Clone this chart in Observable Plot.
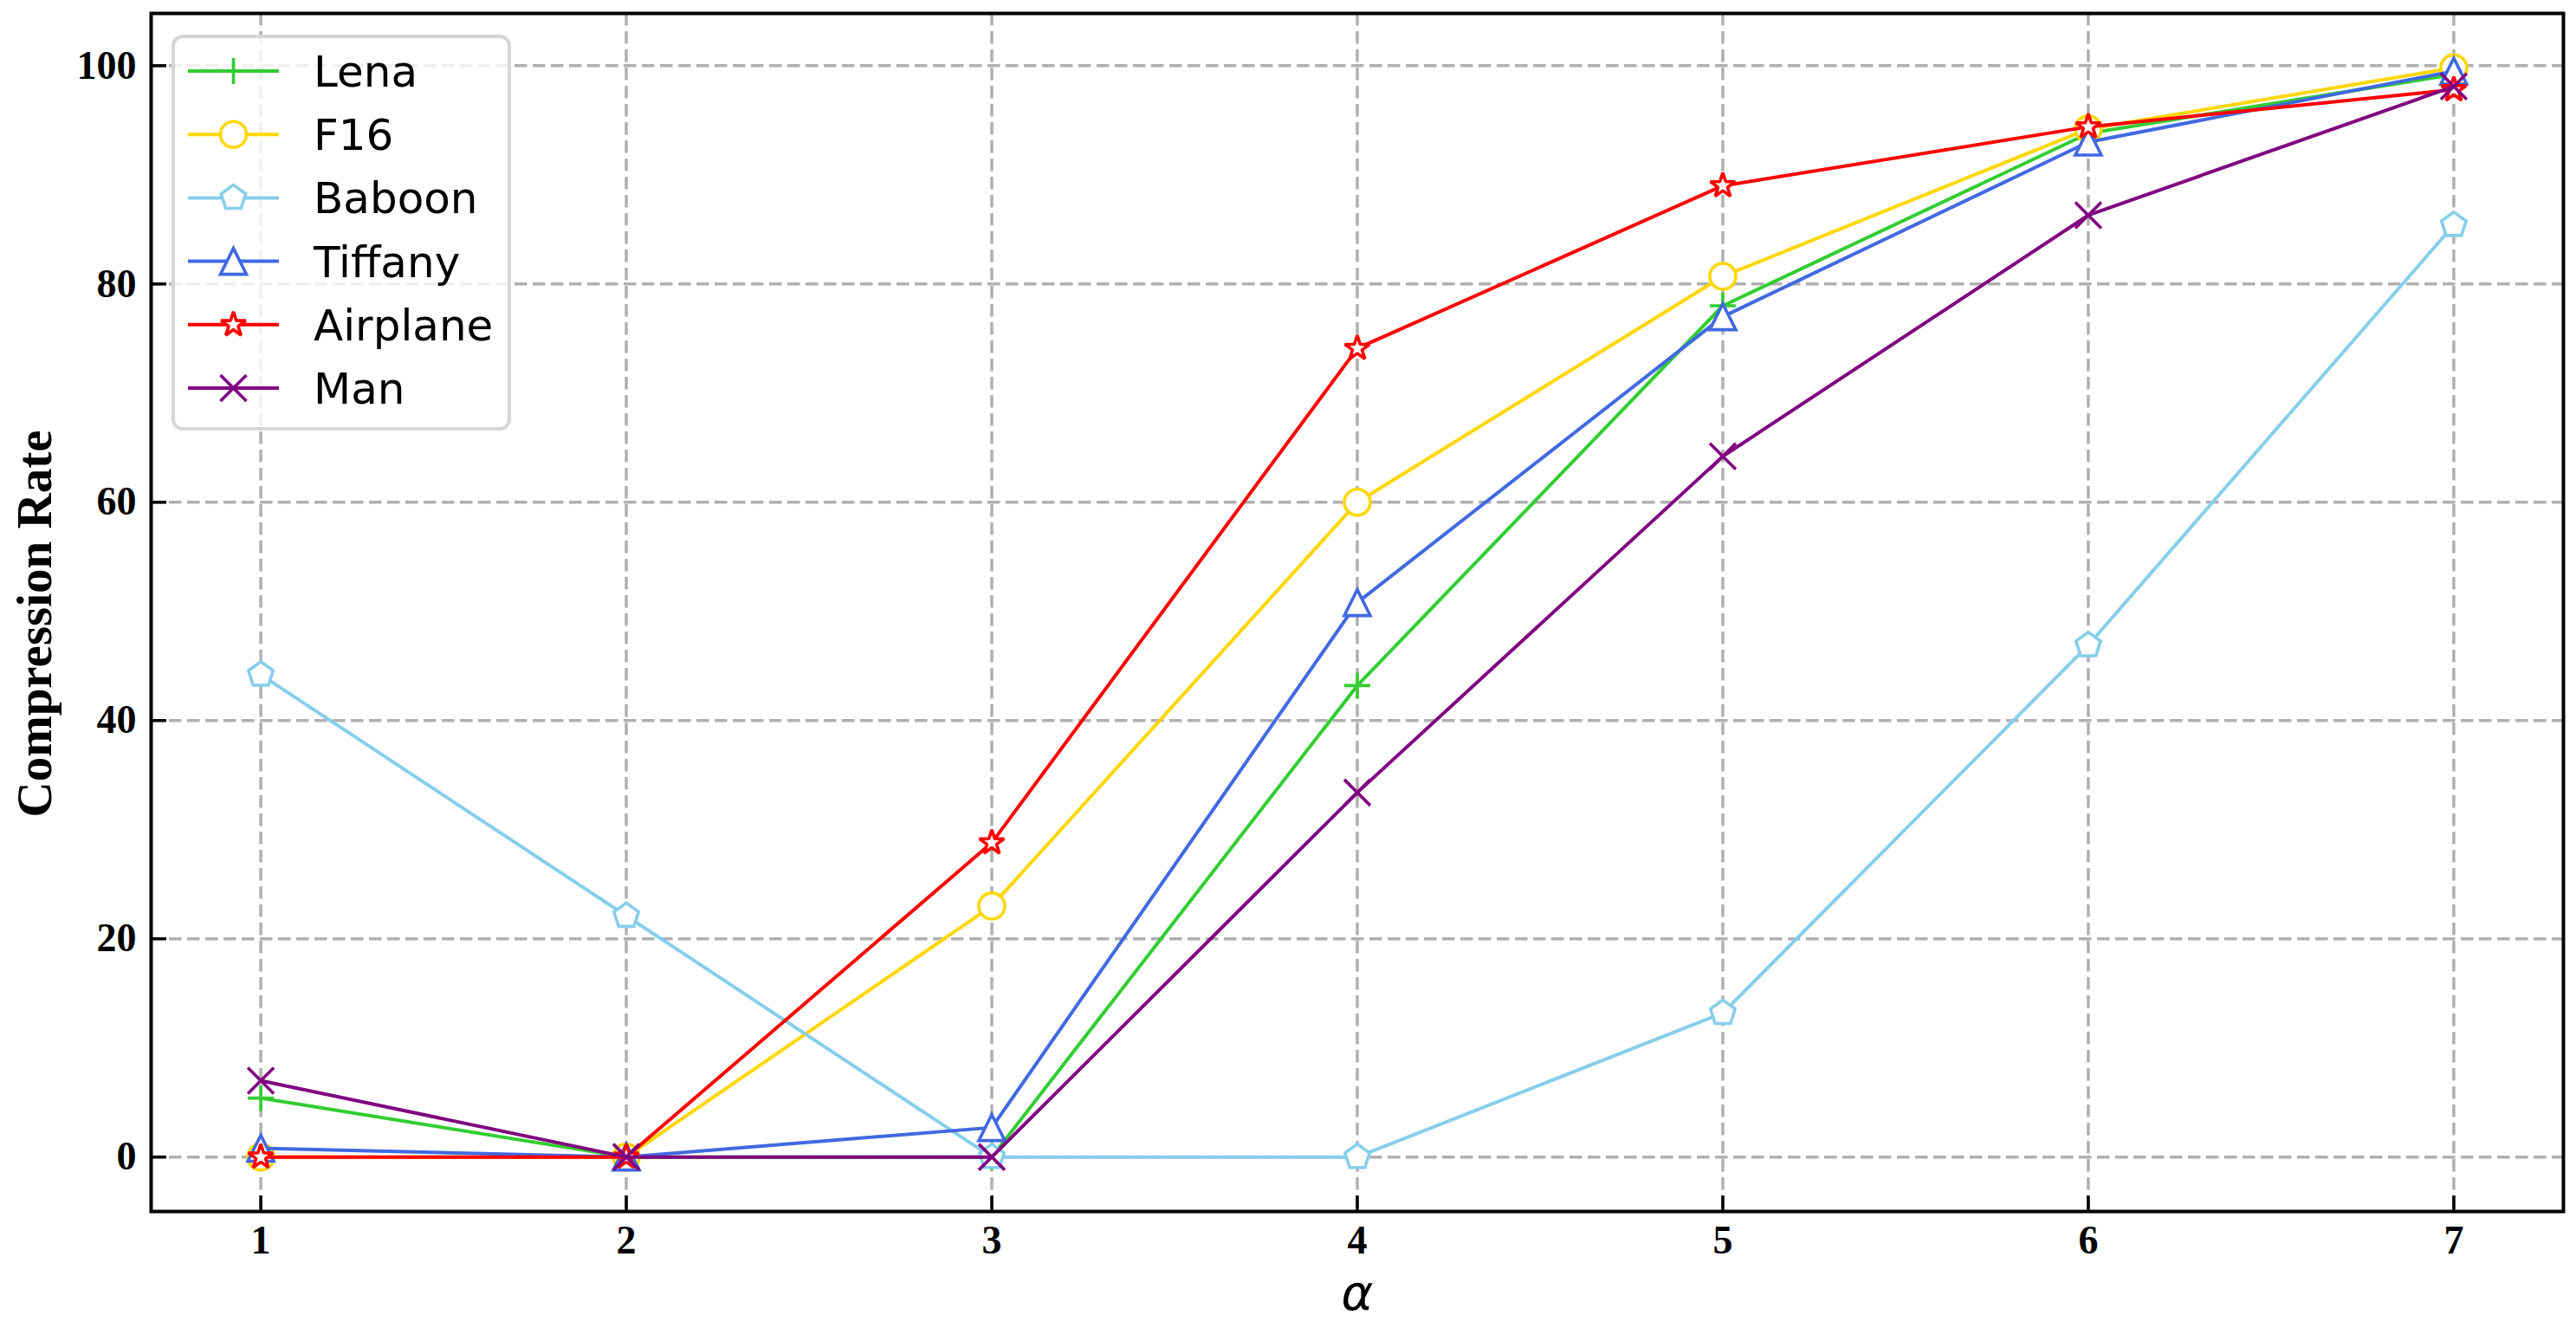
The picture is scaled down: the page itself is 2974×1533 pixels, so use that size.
<!DOCTYPE html>
<html><head><meta charset="utf-8">
<script src="https://cdn.jsdelivr.net/npm/d3@7"></script>
<script src="https://cdn.jsdelivr.net/npm/@observablehq/plot@0.6"></script>
<style>
body{margin:0;background:#fff}
#wrap{position:relative;width:2974px;height:1533px}
#legend{position:absolute;left:0;top:0;pointer-events:none}
</style>
</head><body><div id="wrap"></div>
<script>
// ---- data ----
const alphas = [1, 2, 3, 4, 5, 6, 7];
const seriesNames = ["Lena", "F16", "Baboon", "Tiffany", "Airplane", "Man"];
const lena     = [5.4, 0, 0, 43.2, 78.0, 93.8, 99.2];
const f16      = [0, 0, 23.0, 60.0, 80.7, 94.2, 99.8];
const baboon   = [44.2, 22.1, 0, 0, 13.2, 46.9, 85.4];
const tiffany  = [0.8, 0, 2.7, 50.8, 77.0, 93.0, 99.5];
const airplane = [0, 0, 28.8, 74.1, 89.0, 94.4, 97.8];
const man      = [7.0, 0, 0, 33.4, 64.2, 86.3, 98.1];
const xTicks = [1, 2, 3, 4, 5, 6, 7];
const yTicks = [0, 20, 40, 60, 80, 100];
const xLabel = "α";
const yLabel = "Compression Rate";

const seriesValues = [lena, f16, baboon, tiffany, airplane, man];
const colors = ["#32cd32", "#ffd700", "#87ceeb", "#4169e1", "#ff0000", "#800080"];
const markerKinds = ["plus", "circle", "pentagon", "triangle", "star", "times"];

// ---- matplotlib-like marker shapes ----
const rad = s => Math.sqrt(s / Math.PI);
function poly(c, pts) { c.moveTo(pts[0][0], pts[0][1]); for (let i = 1; i < pts.length; i++) c.lineTo(pts[i][0], pts[i][1]); c.closePath(); }
const symbols = {
  circle: {draw(c, s) { const r = rad(s); c.moveTo(r, 0); c.arc(0, 0, r, 0, 2 * Math.PI); c.closePath(); }},
  plus: {draw(c, s) { const r = rad(s); c.moveTo(-r, 0); c.lineTo(r, 0); c.moveTo(0, -r); c.lineTo(0, r); }},
  times: {draw(c, s) { const r = rad(s); c.moveTo(-r, -r); c.lineTo(r, r); c.moveTo(-r, r); c.lineTo(r, -r); }},
  triangle: {draw(c, s) { const r = rad(s); poly(c, [[0, -r], [-r, r], [r, r]]); }},
  pentagon: {draw(c, s) { const r = rad(s); const p = []; for (let i = 0; i < 5; i++) { const a = -Math.PI / 2 + i * 2 * Math.PI / 5; p.push([r * Math.cos(a), r * Math.sin(a)]); } poly(c, p); }},
  star: {draw(c, s) { const r = rad(s), ri = r * 0.381966; const p = []; for (let i = 0; i < 10; i++) { const a = -Math.PI / 2 + i * Math.PI / 5; const rr = i % 2 ? ri : r; p.push([rr * Math.cos(a), rr * Math.sin(a)]); } poly(c, p); }}
};
const filled = k => !(k === "plus" || k === "times");
const joinFor = k => k === "star" ? "bevel" : "miter";

// ---- layout ----
const W = 2974, H = 1533;
const mL = 174, mR = 15, mT = 15, mB = 135;
const frameW = W - mL - mR, frameH = H - mT - mB;
const tickLen = 18;
const grid = {stroke: "#b0b0b0", strokeOpacity: 1, strokeWidth: 3.5, strokeDasharray: "14.5,6.5"};
const tickFont = {fontSize: 46, fontWeight: "bold", fontFamily: "'Liberation Serif', 'Times New Roman', serif"};

const marks = [
  Plot.gridX(xTicks, grid),
  Plot.gridY(yTicks, grid)
];
seriesValues.forEach((vals, i) => {
  const data = alphas.map((a, j) => ({alpha: a, value: vals[j]}));
  marks.push(Plot.line(data, {x: "alpha", y: "value", stroke: colors[i], strokeWidth: 4}));
  marks.push(Plot.dot(data, {x: "alpha", y: "value", symbol: symbols[markerKinds[i]], r: 15,
    stroke: colors[i], strokeWidth: 3.6, strokeLinejoin: joinFor(markerKinds[i]),
    fill: filled(markerKinds[i]) ? "white" : "none"}));
});
marks.push(
  Plot.tickX(xTicks, {x: d => d, stroke: "black", strokeWidth: 3.5, insetTop: frameH - tickLen}),
  Plot.tickY(yTicks, {y: d => d, stroke: "black", strokeWidth: 3.5, insetRight: frameW - tickLen}),
  Plot.frame({stroke: "black", strokeWidth: 4}),
  Plot.axisX(xTicks, {tickSize: 0, tickPadding: 16, label: null, tickFormat: "d", ...tickFont}),
  Plot.axisY(yTicks, {tickSize: 0, tickPadding: 17, label: null, tickFormat: "d", ...tickFont}),
  Plot.text([yLabel], {frameAnchor: "left", textAnchor: "middle", lineAnchor: "middle", rotate: -90, dx: -134, dy: 13,
    fontSize: 57, fontWeight: "bold", fontFamily: "'Liberation Serif', 'Times New Roman', serif", fill: "black"}),
  Plot.text([xLabel], {frameAnchor: "bottom", textAnchor: "middle", lineAnchor: "middle", dy: 96,
    fontSize: 56, fontStyle: "italic", fontFamily: "'DejaVu Sans', sans-serif", fill: "black"})
);

const chart = Plot.plot({
  width: W, height: H,
  marginLeft: mL, marginRight: mR, marginTop: mT, marginBottom: mB,
  x: {domain: [0.7, 7.3], label: null},
  y: {domain: [-4.99, 104.79], label: null},
  style: {background: "white", color: "black", overflow: "visible"},
  marks
});
const wrap = document.getElementById("wrap");
wrap.appendChild(chart);

// ---- legend overlay ----
const lg = d3.select(wrap).append("svg").attr("id", "legend").attr("width", W).attr("height", H);
const box = {x: 200, y: 42, w: 388, h: 453};
lg.append("rect").attr("x", box.x).attr("y", box.y).attr("width", box.w).attr("height", box.h)
  .attr("rx", 11).attr("fill", "rgba(255,255,255,0.8)").attr("stroke", "#d6d6d6").attr("stroke-width", 4);
seriesNames.forEach((name, i) => {
  const cy = 82 + i * 73.2;
  const g = lg.append("g");
  g.append("line").attr("x1", 217).attr("x2", 322).attr("y1", cy).attr("y2", cy)
    .attr("stroke", colors[i]).attr("stroke-width", 4);
  const p = d3.path();
  symbols[markerKinds[i]].draw(p, Math.PI * 15 * 15);
  g.append("path").attr("d", p.toString()).attr("transform", `translate(269.5,${cy})`)
    .attr("stroke", colors[i]).attr("stroke-width", 3.6)
    .attr("fill", filled(markerKinds[i]) ? "white" : "none").attr("stroke-linejoin", joinFor(markerKinds[i]));
  g.append("text").attr("x", 362).attr("y", cy + 18).text(name)
    .attr("font-family", "'DejaVu Sans', sans-serif").attr("font-size", 50).attr("fill", "black");
});
</script>
</body></html>
